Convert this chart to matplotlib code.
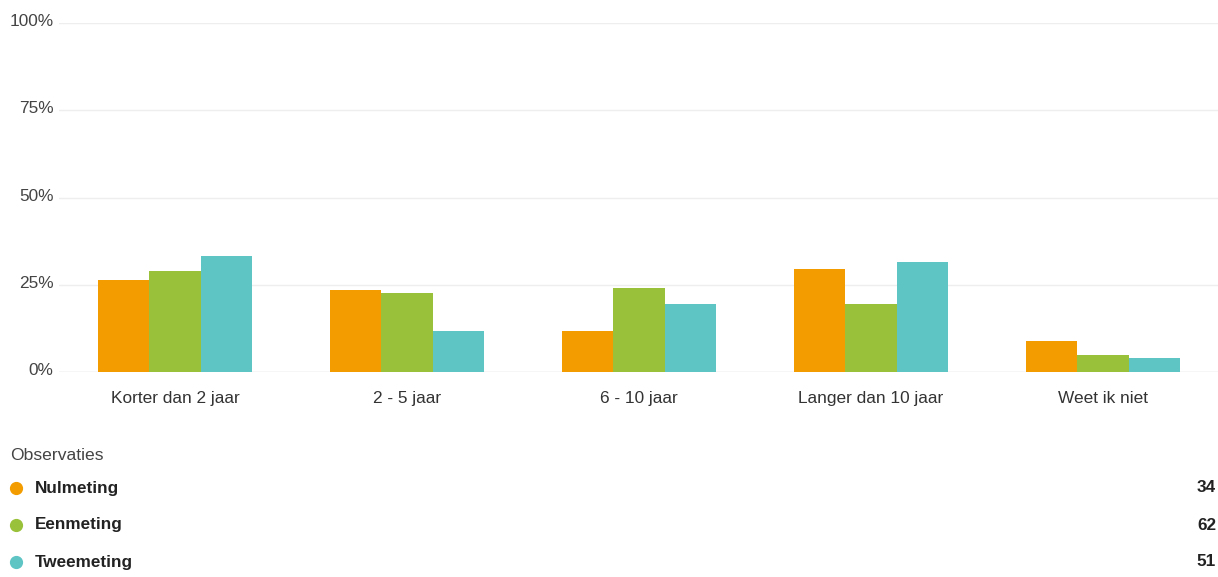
import matplotlib
matplotlib.use("Agg")
import matplotlib.pyplot as plt
import matplotlib.transforms as mtransforms
import numpy as np

plt.rcParams['font.family'] = ['Liberation Sans', 'DejaVu Sans']

categories = ["Korter dan 2 jaar", "2 - 5 jaar", "6 - 10 jaar", "Langer dan 10 jaar", "Weet ik niet"]
series_names = ["Nulmeting", "Eenmeting", "Tweemeting"]
nulmeting = [26.5, 23.5, 11.8, 29.4, 8.8]
eenmeting = [29.0, 22.6, 24.2, 19.4, 4.8]
tweemeting = [33.3, 11.8, 19.6, 31.4, 3.9]
counts = [34, 62, 51]
yticks = [0, 25, 50, 75, 100]
ytick_labels = ["0%", "25%", "50%", "75%", "100%"]
colors = ["#F39C00", "#99C13A", "#5EC4C4"]

W, H = 1218, 577
fig = plt.figure(figsize=(W / 100, H / 100), dpi=100)
ax = fig.add_axes([59 / W, (H - 372) / H, 1160 / W, (372 - 23) / H])

x = np.arange(len(categories))
bw = 0.222
for i, (vals, c) in enumerate(zip([nulmeting, eenmeting, tweemeting], colors)):
    ax.bar(x + (i - 1) * bw, vals, width=bw, color=c, zorder=3, linewidth=0)

ax.set_xlim(-0.5, len(categories) - 0.5)
ax.set_ylim(0, 100)
ax.set_yticks(yticks)
ax.set_yticklabels(ytick_labels, fontsize=12.4, color="#444444")
ax.set_xticks(x)
ax.set_xticklabels(categories, fontsize=12.4, color="#333333")
ax.tick_params(axis='both', length=0)
ax.tick_params(axis='y', pad=4)
ax.tick_params(axis='x', pad=14)
offset = mtransforms.ScaledTranslation(0, 2 / 72, fig.dpi_scale_trans)
for lbl in ax.get_yticklabels():
    lbl.set_transform(lbl.get_transform() + offset)
ax.yaxis.grid(True, color="#EEEEEE", linewidth=1, zorder=0)
ax.axhline(0, color="#E2E2E2", linewidth=1, zorder=2)
for s in ax.spines.values():
    s.set_visible(False)

# Legend block
fig.text(10 / W, 1 - 456 / H, "Observaties", fontsize=12.6, color="#444444", va="center", ha="left")
ys = [488, 525, 562]
for name, c, n, yy in zip(series_names, colors, counts, ys):
    fig.lines.append(plt.Line2D([16 / W], [1 - yy / H], marker="o", markersize=8.5,
                                color=c, linestyle="none", transform=fig.transFigure))
    fig.text(35 / W, 1 - yy / H, name, fontsize=12.3, fontweight="bold", color="#222222",
             va="center", ha="left")
    fig.text(1216 / W, 1 - yy / H, str(n), fontsize=12.3, fontweight="bold", color="#222222",
             va="center", ha="right")

fig.savefig("out.png", dpi=100)
